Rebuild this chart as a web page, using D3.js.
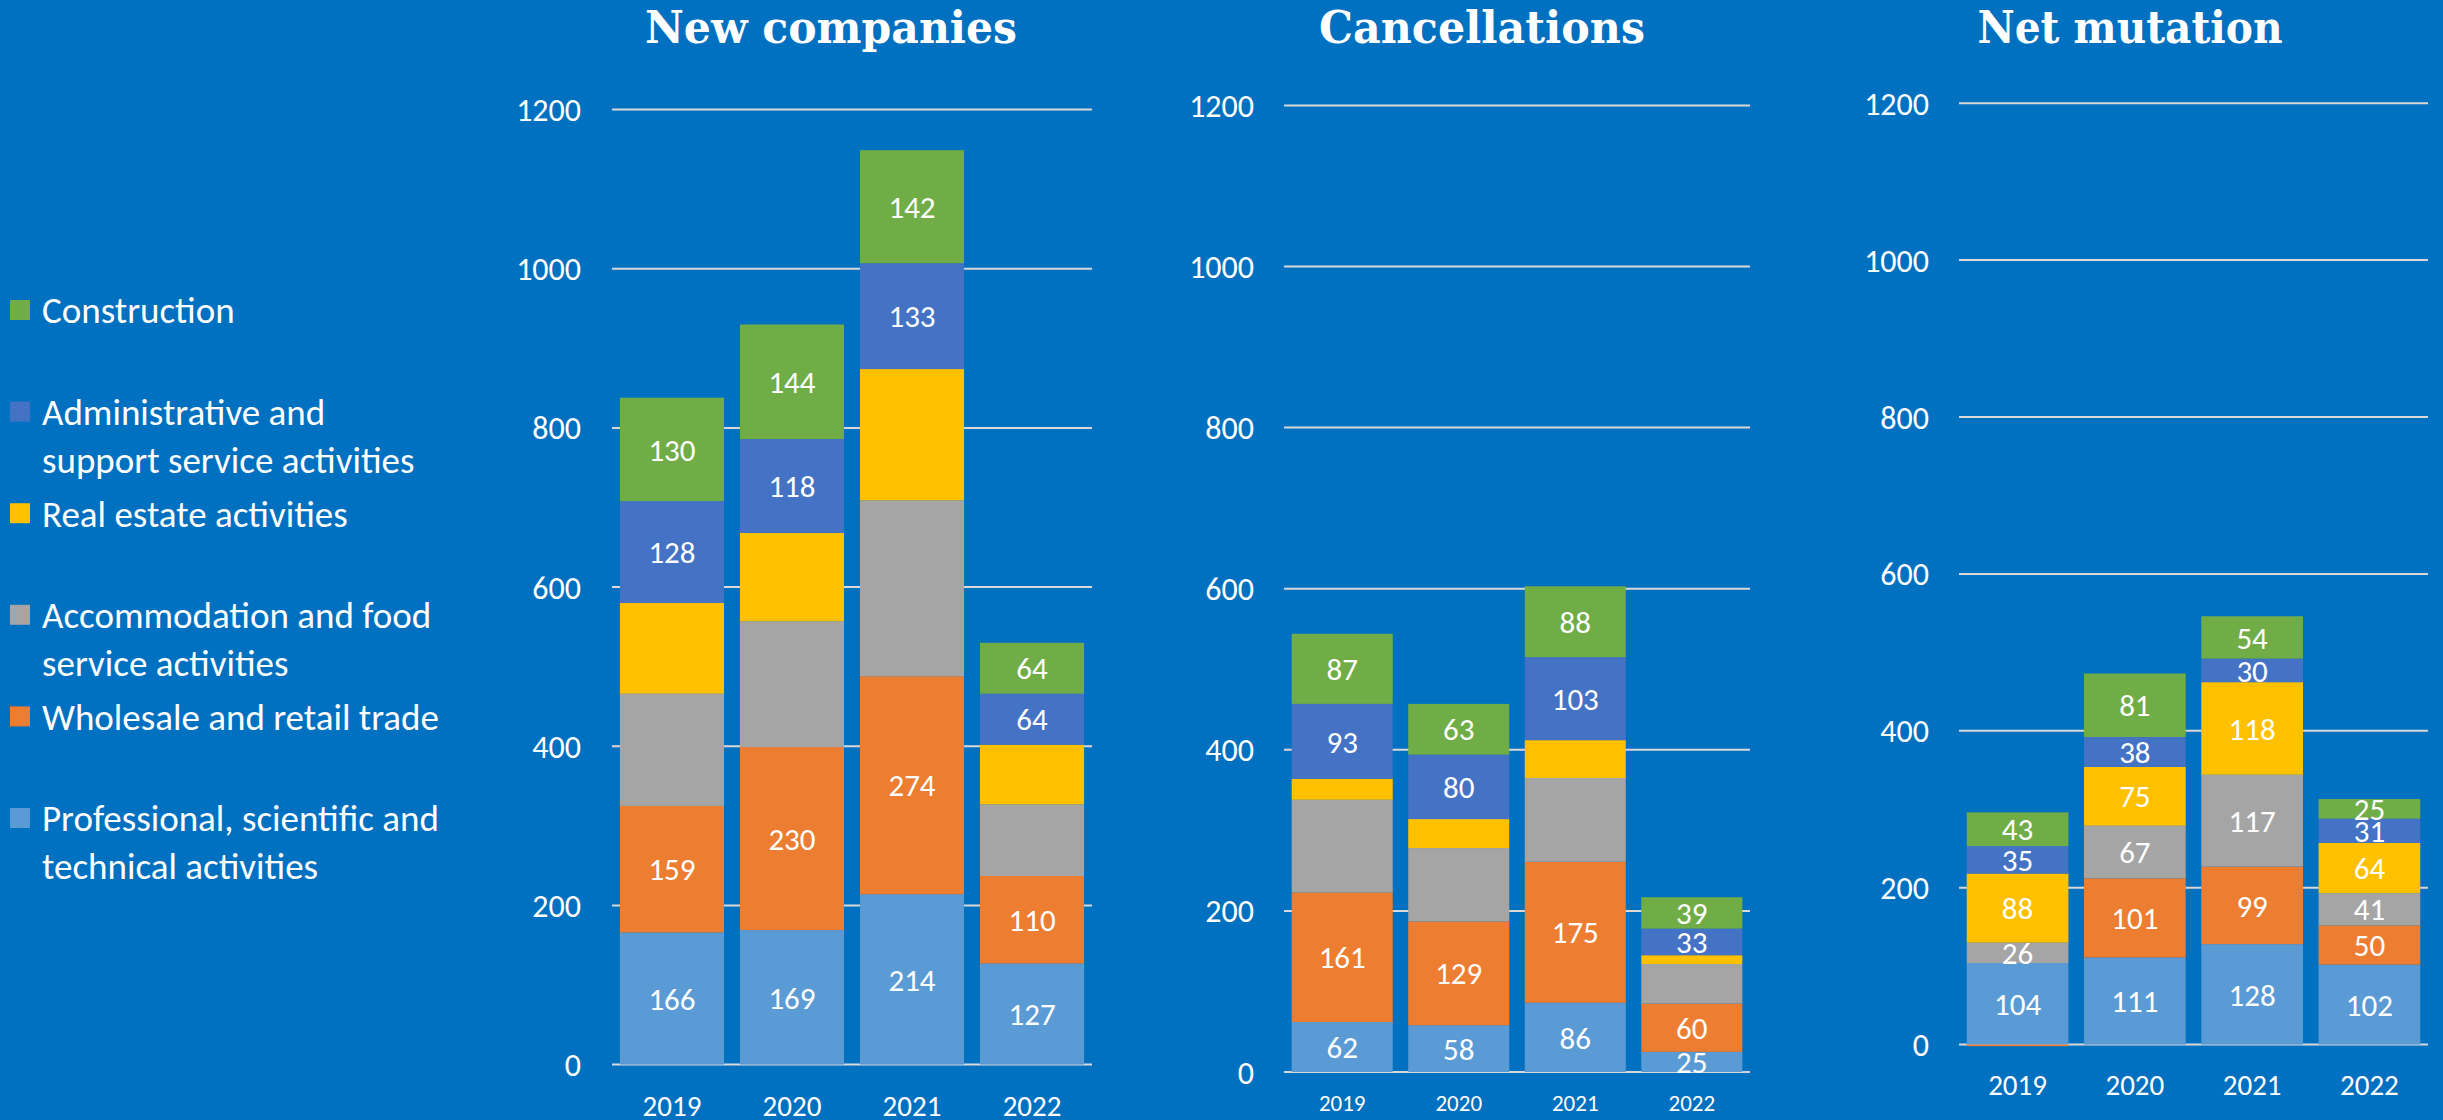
<!DOCTYPE html>
<html>
<head>
<meta charset="utf-8">
<script src="https://cdn.jsdelivr.net/npm/d3@7"></script>
<style>
    html, body { margin: 0; padding: 0; background: #0070C0; }
    svg { display: block; }
</style>
</head>
<body>
<svg id="chart" width="2443" height="1120"></svg>
<script>
// categories
const years = ["2019", "2020", "2021", "2022"];
const sectors = [
    "Professional, scientific and technical activities",
    "Wholesale and retail trade",
    "Accommodation and food service activities",
    "Real estate activities",
    "Administrative and support service activities",
    "Construction"
];
// legend text, wrapped like the original
const legendLines = [
    ["Professional, scientific and", "technical activities"],
    ["Wholesale and retail trade"],
    ["Accommodation and food", "service activities"],
    ["Real estate activities"],
    ["Administrative and", "support service activities"],
    ["Construction"]
];
const colors = ["#5B9BD5", "#ED7D31", "#A5A5A5", "#FFC000", "#4472C4", "#70AD47"];
const yTicks = [0, 200, 400, 600, 800, 1000, 1200];

// values per sector (same order as sectors), one entry per year
const newCompanies = [
    [166, 169, 214, 127],
    [159, 230, 274, 110],
    [141, 158, 221, 90],
    [114, 111, 165, 75],
    [128, 118, 133, 64],
    [130, 144, 142, 64]
];
const cancellations = [
    [62, 58, 86, 25],
    [161, 129, 175, 60],
    [115, 91, 104, 49],
    [26, 36, 47, 11],
    [93, 80, 103, 33],
    [87, 63, 88, 39]
];
const netMutation = [
    [104, 111, 128, 102],
    [-2, 101, 99, 50],
    [26, 67, 117, 41],
    [88, 75, 118, 64],
    [35, 38, 30, 31],
    [43, 81, 54, 25]
];

// which sectors get a data label in each panel
const labelsNew = [true, true, false, false, true, true];
const labelsCancel = [true, true, false, false, true, true];
const labelsNet = [true, true, true, true, true, true];

const titles = ["New companies", "Cancellations", "Net mutation"];

const font = "Carlito, Lato, sans-serif";
const svg = d3.select("#chart");

// panel geometry
const panels = [
    {title: titles[0], values: newCompanies, labels: labelsNew,
        left: 612, right: 1092, y0: 1064.6, y1: 109.6, tickX: 581,
        xLabelY: 1106, xFont: 29, titleX: 831, titleW: 372},
    {title: titles[1], values: cancellations, labels: labelsCancel,
        left: 1284, right: 1750, y0: 1072, y1: 105.4, tickX: 1254,
        xLabelY: 1103, xFont: 23, titleX: 1482, titleW: 326},
    {title: titles[2], values: netMutation, labels: labelsNet,
        left: 1959, right: 2428, y0: 1044.6, y1: 103.2, tickX: 1929,
        xLabelY: 1085, xFont: 29, titleX: 2130, titleW: 305}
];

function draw_panel(p)
{
    const g = svg.append("g");

    const x = d3.scaleBand()
        .domain(years)
        .range([p.left, p.right])
        .paddingInner(0.133)
        .paddingOuter(0.066);

    const y = d3.scaleLinear()
        .domain([0, 1200])
        .range([p.y0, p.y1]);

    // gridlines
    g.selectAll(".grid")
        .data(yTicks)
        .enter().append("line")
        .attr("x1", p.left)
        .attr("x2", p.right)
        .attr("y1", d => y(d))
        .attr("y2", d => y(d))
        .attr("stroke", "#D9D9D9")
        .attr("stroke-width", 2);

    // tick labels
    g.selectAll(".tick")
        .data(yTicks)
        .enter().append("text")
        .attr("x", p.tickX)
        .attr("y", d => y(d))
        .attr("dy", "0.36em")
        .attr("text-anchor", "end")
        .attr("fill", "#fff")
        .style("font-family", font)
        .style("font-size", "32px")
        .text(d => d);

    // year labels
    g.selectAll(".year")
        .data(years)
        .enter().append("text")
        .attr("x", d => x(d) + x.bandwidth() / 2)
        .attr("y", p.xLabelY)
        .attr("dy", "0.36em")
        .attr("text-anchor", "middle")
        .attr("fill", "#fff")
        .style("font-family", font)
        .style("font-size", p.xFont + "px")
        .text(d => d);

    // build rows for the stack
    const rows = years.map(function(yr, i) {
        let row = {year: yr};
        sectors.forEach(function(s, k) { row[s] = p.values[k][i]; });
        return row;
    });
    const series = d3.stack()
        .keys(sectors)
        .offset(d3.stackOffsetDiverging)(rows);

    series.forEach(function(s, k) {
        const layer = g.append("g");
        layer.selectAll("rect")
            .data(s)
            .enter().append("rect")
            .attr("x", d => x(d.data.year))
            .attr("width", x.bandwidth())
            .attr("y", d => y(Math.max(d[0], d[1])))
            .attr("height", d => Math.abs(y(d[0]) - y(d[1])))
            .attr("fill", colors[k]);

        if(p.labels[k])
        {
            layer.selectAll("text")
                .data(s.filter(d => d.data[sectors[k]] > 0))
                .enter().append("text")
                .attr("x", d => x(d.data.year) + x.bandwidth() / 2)
                .attr("y", d => y((d[0] + d[1]) / 2))
                .attr("dy", "0.36em")
                .attr("text-anchor", "middle")
                .attr("fill", "#fff")
                .style("font-family", font)
                .style("font-size", "31px")
                .text(d => d.data[sectors[k]]);
        }
    });

    // title
    g.append("text")
        .attr("x", p.titleX)
        .attr("y", 43)
        .attr("text-anchor", "middle")
        .attr("fill", "#fff")
        .attr("textLength", p.titleW)
        .attr("lengthAdjust", "spacingAndGlyphs")
        .style("font-family", "'DejaVu Serif', serif")
        .style("font-weight", "bold")
        .style("font-size", "44px")
        .text(p.title);
}

panels.forEach(draw_panel);

// legend, Construction on top
const legendTop = 310, legendStep = 101.6;
const legend = svg.append("g");
const legendOrder = d3.range(sectors.length).reverse();
legendOrder.forEach(function(k, i) {
    const cy = legendTop + i * legendStep;
    legend.append("rect")
        .attr("x", 10)
        .attr("y", cy - 10)
        .attr("width", 20)
        .attr("height", 20)
        .attr("fill", colors[k]);
    legendLines[k].forEach(function(line, j) {
        legend.append("text")
            .attr("x", 42)
            .attr("y", cy + j * 48)
            .attr("dy", "0.36em")
            .attr("fill", "#fff")
            .style("font-family", font)
            .style("font-size", "37px")
            .text(line);
    });
});
</script>
</body>
</html>
